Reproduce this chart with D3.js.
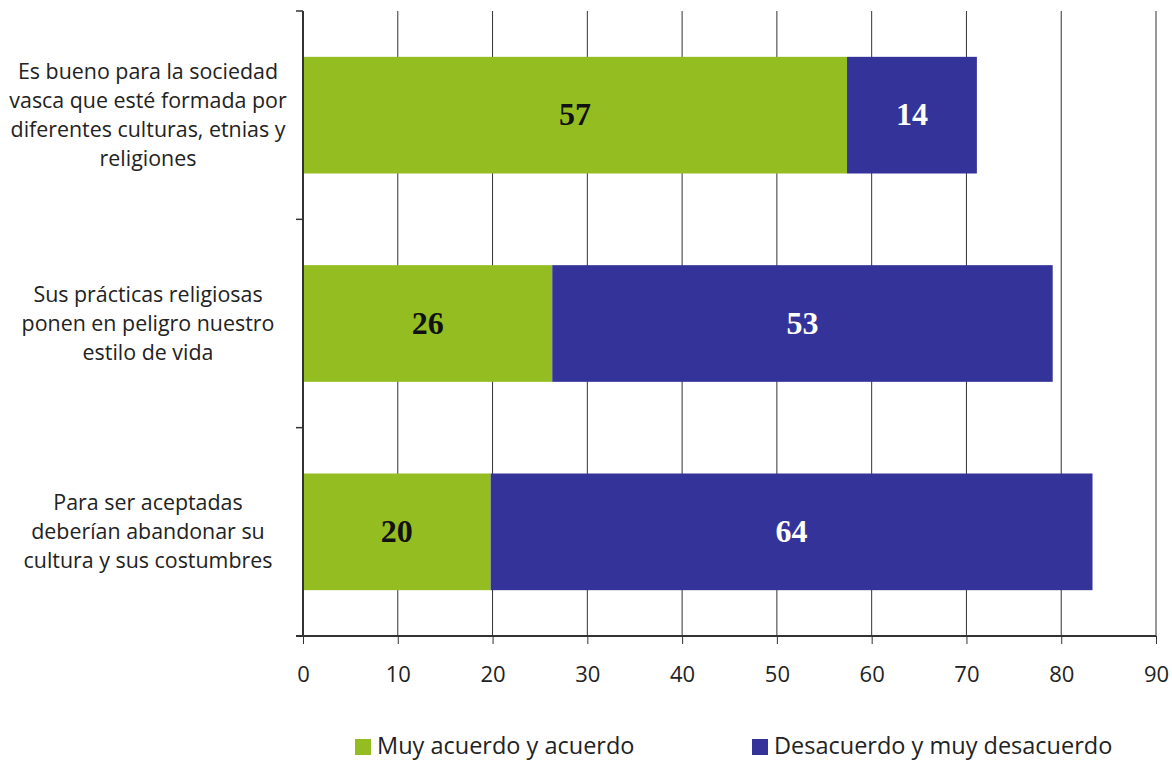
<!DOCTYPE html>
<html><head><meta charset="utf-8">
<script src="https://cdn.jsdelivr.net/npm/d3@7"></script>
<style>body{margin:0;background:#fff}svg{display:block}</style>
</head><body>
<svg id="c" width="1172" height="761"></svg>
<script>
const categories = [
  ["Es bueno para la sociedad","vasca que esté formada por","diferentes culturas, etnias y","religiones"],
  ["Sus prácticas religiosas","ponen en peligro nuestro","estilo de vida"],
  ["Para ser aceptadas","deberían abandonar su","cultura y sus costumbres"]
];
const seriesNames = ["Muy acuerdo y acuerdo","Desacuerdo y muy desacuerdo"];
const agreeValues = [57.4, 26.3, 19.8];
const disagreeValues = [13.7, 52.8, 63.5];
const xTicks = [0,10,20,30,40,50,60,70,80,90];
const colors = ["#94BD22","#333399"];

const svg = d3.select("#c");
const font = "'Open Sans', Lato, sans-serif";
const L = 303, R = 1156, T = 11, B = 636;
const x = d3.scaleLinear().domain([0,90]).range([L,R]);
const y = d3.scaleBand().domain(d3.range(categories.length)).range([T,B]).paddingInner(0).paddingOuter(0);
const barH = y.bandwidth()*0.56;

// gridlines
svg.append("g").selectAll("line").data(xTicks.slice(1)).join("line")
  .attr("x1",d=>x(d)).attr("x2",d=>x(d)).attr("y1",T).attr("y2",B)
  .attr("stroke","#333").attr("stroke-width",1);

// bars
const rows = categories.map((c,i)=>({i, a:agreeValues[i], d:disagreeValues[i]}));
const g = svg.append("g");
rows.forEach(r=>{
  const yc = y(r.i)+y.bandwidth()/2;
  g.append("rect").attr("x",x(0)).attr("y",yc-barH/2).attr("width",x(r.a)-x(0)).attr("height",barH).attr("fill",colors[0]);
  g.append("rect").attr("x",x(r.a)).attr("y",yc-barH/2).attr("width",x(r.a+r.d)-x(r.a)).attr("height",barH).attr("fill",colors[1]);
  g.append("text").attr("x",(x(0)+x(r.a))/2).attr("y",yc-1).attr("dy","0.35em").attr("text-anchor","middle")
    .attr("font-family","'Liberation Serif', serif").attr("font-weight","bold").attr("font-size",32).attr("fill","#111").text(Math.round(r.a));
  g.append("text").attr("x",(x(r.a)+x(r.a+r.d))/2).attr("y",yc-1).attr("dy","0.35em").attr("text-anchor","middle")
    .attr("font-family","'Liberation Serif', serif").attr("font-weight","bold").attr("font-size",32).attr("fill","#fff").text(Math.round(r.d));
});

// x axis
const xAxis = d3.axisBottom(x).tickValues(xTicks).tickSize(8).tickPadding(22).tickSizeOuter(0);
const xg = svg.append("g").attr("transform",`translate(0,${B})`).call(xAxis);
xg.select(".domain").attr("stroke","#333").attr("stroke-width",2).attr("d",`M${L-7},0H${R}`);
xg.selectAll(".tick line").attr("stroke","#333");
xg.selectAll("text").attr("font-family",font).attr("font-size",22).attr("fill","#222");

// y axis line + ticks at band boundaries
svg.append("line").attr("x1",L).attr("x2",L).attr("y1",T).attr("y2",B).attr("stroke","#333").attr("stroke-width",2);
const bounds = d3.range(categories.length+1).map(i=> i<categories.length ? y(i) : B);
svg.append("g").selectAll("line").data(bounds).join("line")
  .attr("x1",L-7).attr("x2",L).attr("y1",d=>d).attr("y2",d=>d).attr("stroke","#333").attr("stroke-width",1.5);

// category labels
categories.forEach((lines,i)=>{
  const yc = y(i)+y.bandwidth()/2;
  const lh = 29;
  const t = svg.append("text").attr("text-anchor","middle").attr("font-family",font).attr("font-size",21.4).attr("fill","#222");
  lines.forEach((ln,j)=>{
    t.append("tspan").attr("x",148).attr("y",yc + (j-(lines.length-1)/2)*lh).attr("dy","0.35em").text(ln);
  });
});

// legend
const leg = [{x:355},{x:752}];
seriesNames.forEach((n,i)=>{
  svg.append("rect").attr("x",leg[i].x).attr("y",739).attr("width",16).attr("height",16).attr("fill",colors[i]);
  svg.append("text").attr("x",leg[i].x+22).attr("y",754).attr("font-family",font).attr("font-size",23.5).attr("fill","#222").text(n);
});
</script>
</body></html>
